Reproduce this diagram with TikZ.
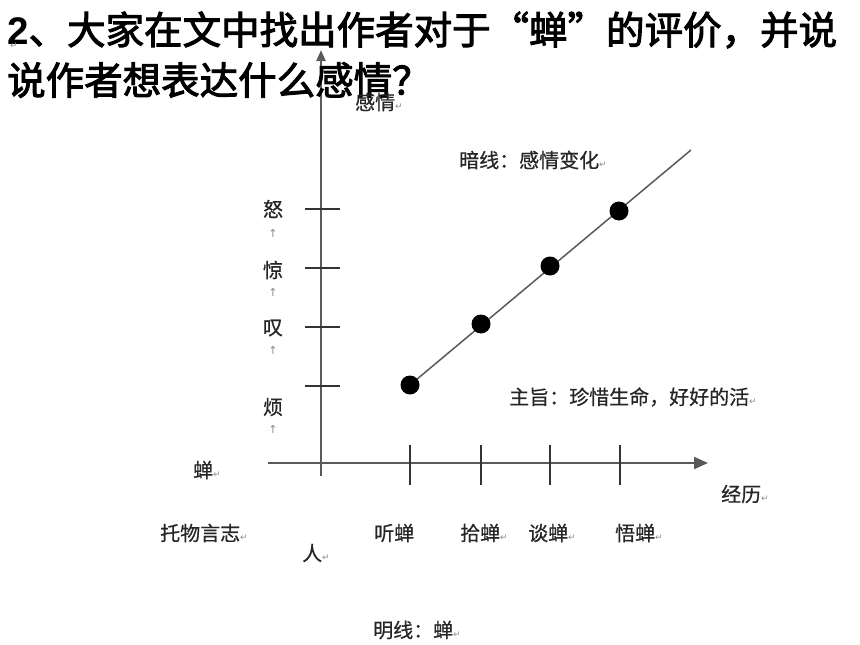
\documentclass[tikz,border=0pt]{standalone}
\usepackage{fontspec}
\setmainfont{Noto Sans CJK SC}
\newfontfamily\titlefont[FakeBold=2.5]{Noto Sans CJK SC}
\newfontfamily\labfont[FakeBold=0.6]{Noto Sans CJK SC}
\newfontfamily\numfont{Liberation Sans}
\newfontfamily\symfont{DejaVu Sans}
\usetikzlibrary{arrows.meta,backgrounds}
\definecolor{axisgray}{HTML}{5A5A5A}
\definecolor{labgray}{HTML}{262626}
\newcommand\parmark{{\symfont\fontsize{9}{9}\selectfont\textcolor{black!45}{↵}}}
\newcommand\upmark{{\symfont\fontsize{11}{11}\selectfont\textcolor{black!45}{↑}}}
\begin{document}
\begin{tikzpicture}[x=1pt,y=-1pt,
  title/.style={anchor=west,inner sep=0pt,font=\fontsize{38.5}{38.5}\titlefont},
  lab/.style={inner sep=0pt,text=labgray,font=\fontsize{20}{20}\labfont},
  axisline/.style={draw=axisgray,line width=2.2pt},
  tickline/.style={draw=black!80,line width=1.8pt},
  trend/.style={draw=axisgray,line width=1.5pt},
  dotnode/.style={circle,fill=black,inner sep=0pt,minimum size=19pt}]
\useasboundingbox (0,0) rectangle (860,645);
% axes
\coordinate (yb) at (321,476);
\coordinate (yt) at (321,50);
\coordinate (xl) at (268,463);
\coordinate (xr) at (708,463);
\draw[axisline,-{Triangle[length=11pt,width=9pt]}] (yb) -- (yt);
\draw[axisline,-{Triangle[length=14pt,width=12pt]}] (xl) -- (xr);
% title
\node[title] (t1) at (7,30) {{\numfont\bfseries 2}、大家在文中找出作者对于“蝉”的评价，并说};
\node[title] (t2) at (7,80) {说作者想表达什么感情？};
\node[inner sep=0pt] (pm0) at (14,46) {\parmark};
% y ticks
\foreach \yy in {209,268,327,386} \draw[tickline] (305,\yy) -- (340,\yy);
% x ticks
\foreach \xx in {410,481,550,620} \draw[tickline] (\xx,445) -- (\xx,485);
% dots and trend line
\node[dotnode] (d1) at (410,385) {};
\node[dotnode] (d2) at (481,324) {};
\node[dotnode] (d3) at (550,266) {};
\node[dotnode] (d4) at (619,211) {};
\coordinate (le) at (691,150);
\begin{scope}[on background layer]
\fill[white] (0,0) rectangle (860,645);
\draw[trend] (d1.center) -- (le);
\end{scope}
% y labels
\node[lab] (ynu) at (273,209) {怒};
\node[inner sep=0pt] (u1) at (273,233) {\upmark};
\node[lab] (yjing) at (273,270) {惊};
\node[inner sep=0pt] (u2) at (273,292) {\upmark};
\node[lab] (ytan) at (273,328) {叹};
\node[inner sep=0pt] (u3) at (273,350) {\upmark};
\node[lab] (yfan) at (273,407) {烦};
\node[inner sep=0pt] (u4) at (273,429) {\upmark};
% other labels
\node[lab,anchor=west] (lgan) at (355,102) {感情\parmark};
\node[lab,anchor=west] (lan) at (459,160) {暗线：感情变化\parmark};
\node[lab,anchor=west] (lzhu) at (509,397) {主旨：珍惜生命，好好的活\parmark};
\node[lab,anchor=west] (lchan) at (193,470) {蝉\parmark};
\node[lab,anchor=west] (ljing) at (721,494) {经历\parmark};
\node[lab,anchor=west] (ltuo) at (160,533) {托物言志\parmark};
\node[lab,anchor=west] (lren) at (302,553) {人\parmark};
\node[lab,anchor=west] (lting) at (374,533) {听蝉};
\node[lab,anchor=west] (lshi) at (460,533) {拾蝉\parmark};
\node[lab,anchor=west] (ltan) at (528,533) {谈蝉\parmark};
\node[lab,anchor=west] (lwu) at (615,533) {悟蝉\parmark};
\node[lab,anchor=west] (lming) at (373,630) {明线：蝉\parmark};
\end{tikzpicture}
\end{document}
